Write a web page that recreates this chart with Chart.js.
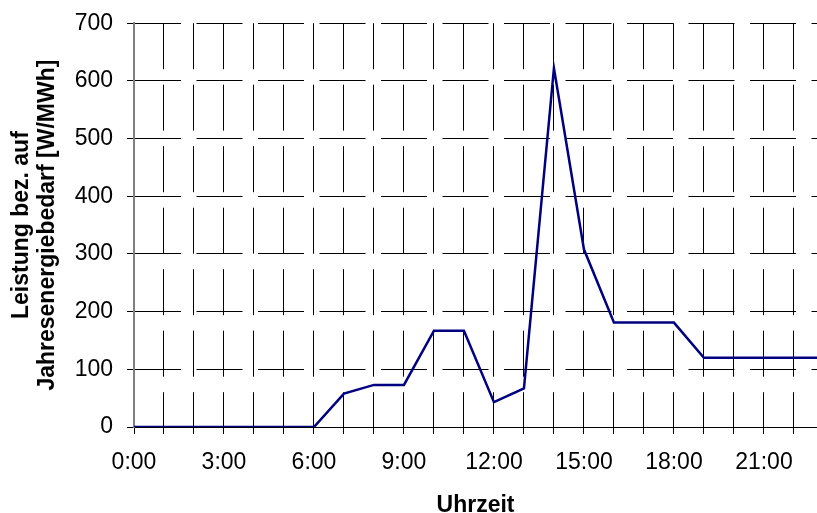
<!DOCTYPE html>
<html>
<head>
<meta charset="utf-8">
<script src="https://cdn.jsdelivr.net/npm/chart.js@4"></script>
<style>
  html, body { margin: 0; padding: 0; background: #fff; overflow: hidden; }
  #wrap { width: 817px; height: 513px; }
</style>
</head>
<body>
<div id="wrap"><canvas id="c" width="817" height="513"></canvas></div>
<script>
// Data
const hours = [0,1,2,3,4,5,6,7,8,9,10,11,12,13,14,15,16,17,18,19,20,21,22,23];
const leistung = [0,0,0,0,0,0,0,58,73,73,167,167,43,67,622,308,181,181,181,120,120,120,120,120];
const xTickLabels = ['0:00','3:00','6:00','9:00','12:00','15:00','18:00','21:00'];
const yTickValues = [0,100,200,300,400,500,600,700];
const xTitle = 'Uhrzeit';
const yTitle = ['Leistung bez. auf', 'Jahresenergiebedarf [W/MWh]'];
const xVisibleMax = 22.77; // reference plot is cut at the right edge

const FONT = 'Liberation Sans, Arial, sans-serif';
const FS = 23;
const gridDash = [46, 15.5];

new Chart(document.getElementById('c'), {
  type: 'line',
  data: {
    datasets: [{
      data: hours.map((h, i) => ({ x: h, y: leistung[i] })),
      borderColor: '#000080',
      borderWidth: 2.5,
      pointRadius: 0,
      tension: 0,
      fill: false
    }]
  },
  options: {
    responsive: false,
    animation: false,
    events: [],
    layout: { padding: { top: 21, right: 0, left: 0, bottom: 0 } },
    plugins: { legend: { display: false }, tooltip: { enabled: false } },
    scales: {
      x: {
        type: 'linear',
        min: hours[0],
        max: xVisibleMax,
        afterFit(scale) { scale.height = 86; },
        afterBuildTicks(scale) { scale.ticks = hours.filter(h => h <= xVisibleMax).map(h => ({ value: h })); },
        ticks: {
          autoSkip: false,
          maxRotation: 0,
          minRotation: 0,
          padding: 15,
          color: '#000',
          font: { family: FONT, size: FS },
          callback: (v) => (v % 3 === 0 ? (xTickLabels[v / 3] ?? '') : '')
        },
        grid: { color: '#000', lineWidth: 1, tickLength: 7, tickBorderDash: [] },
        border: { display: true, color: '#000', width: 1, dash: gridDash, dashOffset: 0 },
        title: {
          display: true,
          text: xTitle,
          color: '#000',
          font: { family: FONT, size: FS, weight: 'bold', lineHeight: 1.0 },
          padding: { top: 0, bottom: -4.5 }
        }
      },
      y: {
        min: yTickValues[0],
        max: yTickValues[yTickValues.length - 1],
        afterFit(scale) { scale.width = 134; },
        afterBuildTicks(scale) { scale.ticks = yTickValues.map(v => ({ value: v })); },
        ticks: {
          padding: 14,
          color: '#000',
          font: { family: FONT, size: FS, lineHeight: 0.8 }
        },
        grid: { color: '#000', lineWidth: 1, tickLength: 7, tickBorderDash: [] },
        border: { display: true, color: '#808080', width: 2, dash: gridDash, dashOffset: 0 },
        title: {
          display: true,
          text: yTitle,
          color: '#000',
          font: { family: FONT, size: FS, weight: 'bold', lineHeight: 1.15 },
          padding: { top: 8, bottom: 0 }
        }
      }
    }
  }
});
</script>
</body>
</html>
